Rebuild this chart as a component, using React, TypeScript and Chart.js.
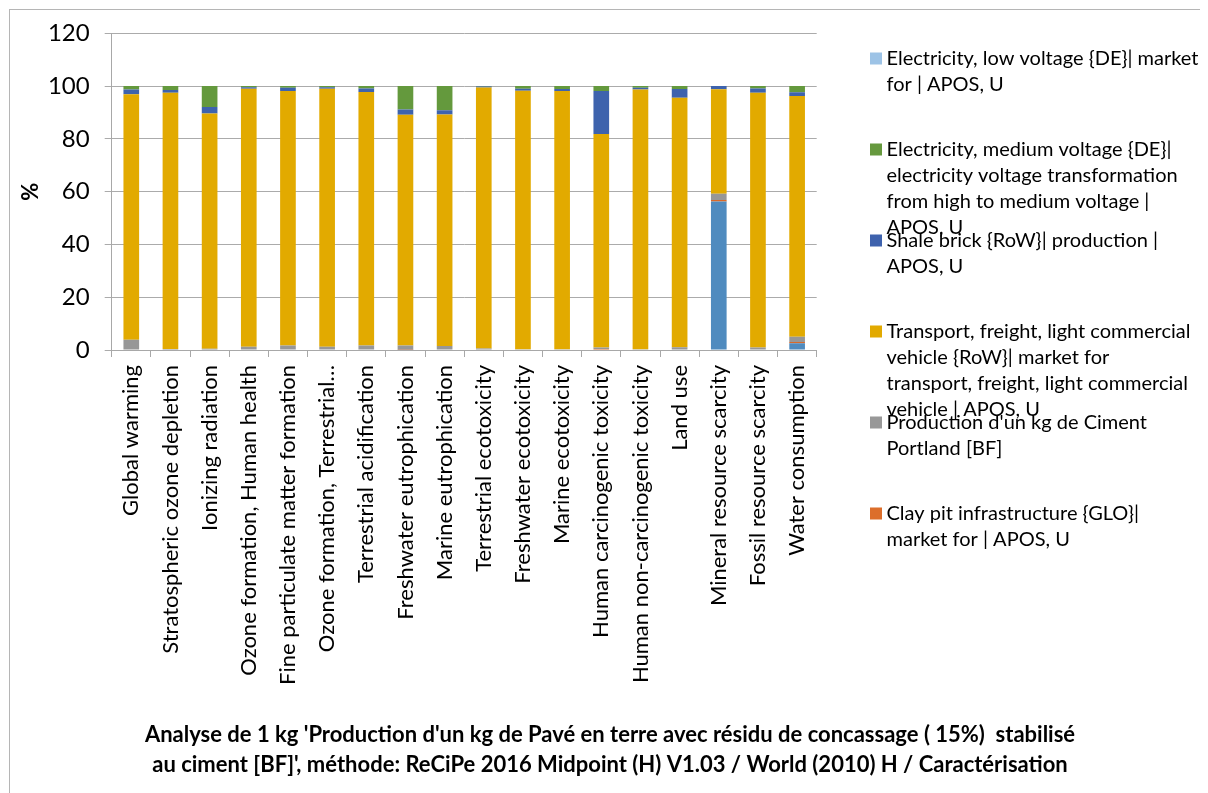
import React, { useEffect, useRef } from "react";
import { Chart, registerables } from "chart.js";

Chart.register(...registerables);

// Impact categories (x axis)
const categories = [
  "Global warming",
  "Stratospheric ozone depletion",
  "Ionizing radiation",
  "Ozone formation, Human health",
  "Fine particulate matter formation",
  "Ozone formation, Terrestrial…",
  "Terrestrial acidification",
  "Freshwater eutrophication",
  "Marine eutrophication",
  "Terrestrial ecotoxicity",
  "Freshwater ecotoxicity",
  "Marine ecotoxicity",
  "Human carcinogenic toxicity",
  "Human non-carcinogenic toxicity",
  "Land use",
  "Mineral resource scarcity",
  "Fossil resource scarcity",
  "Water consumption",
];

// Contributions in %, stacked bottom to top
const lowVoltage = [0, 0, 0, 0, 0, 0, 0, 0, 0, 0, 0, 0, 0, 0, 0, 56.3, 0, 2.6];
const clayPit = [0, 0, 0, 0, 0, 0, 0, 0.1, 0, 0.2, 0, 0, 0.4, 0, 0.2, 0.5, 0, 0.4];
const ciment = [3.9, 0.4, 0.5, 1.2, 1.7, 1.2, 1.7, 1.6, 1.5, 0.4, 0.3, 0.3, 0.5, 0.3, 0.8, 2.4, 0.9, 2.0];
const transport = [93.0, 97.1, 89.1, 97.8, 96.4, 97.8, 96.1, 87.4, 87.7, 98.9, 97.9, 97.8, 80.9, 98.4, 94.6, 39.6, 96.6, 91.2];
const shaleBrick = [1.8, 1.0, 2.5, 0.6, 1.3, 0.6, 1.3, 2.0, 1.6, 0.3, 0.8, 0.8, 16.3, 0.7, 3.3, 1.2, 1.6, 1.5];
const mediumVoltage = [1.3, 1.5, 7.9, 0.4, 0.6, 0.4, 0.9, 8.9, 9.2, 0.2, 1.0, 1.1, 1.9, 0.6, 1.1, 0, 0.9, 2.3];

// Series names, split into the lines shown in the legend
const seriesNameLines = [
  ["Electricity, low voltage {DE}| market", "for | APOS, U"],
  ["Clay pit infrastructure {GLO}|", "market for | APOS, U"],
  ["Production d'un kg de Ciment", "Portland [BF]"],
  [
    "Transport, freight, light commercial",
    "vehicle {RoW}| market for",
    "transport, freight, light commercial",
    "vehicle | APOS, U",
  ],
  ["Shale brick {RoW}| production |", "APOS, U"],
  [
    "Electricity, medium voltage {DE}|",
    "electricity voltage transformation",
    "from high to medium voltage |",
    "APOS, U",
  ],
];
const seriesValues = [lowVoltage, clayPit, ciment, transport, shaleBrick, mediumVoltage];
const barColors = ["#4F8BBF", "#D8692A", "#979797", "#E2AA00", "#3E63AD", "#64993D"];
const swatchColors = ["#9DC3E6", "#DC6E2B", "#989898", "#E2AA00", "#3E62AD", "#66993E"];
// legend lists series in this order (top to bottom)
const legendOrder = [0, 5, 4, 3, 2, 1];

const yTicks = [0, 20, 40, 60, 80, 100, 120];
const yAxisTitle = "%";
const titleLines = [
  "Analyse de 1 kg 'Production d'un kg de Pavé en terre avec résidu de concassage ( 15%)  stabilisé",
  "au ciment [BF]', méthode: ReCiPe 2016 Midpoint (H) V1.03 / World (2010) H / Caractérisation",
];

const FONT = "Lato, 'Open Sans', sans-serif";
const W = 1200;
const H = 785;

const decorations = {
  id: "decorations",
  afterDraw(chart: any) {
    const ctx: CanvasRenderingContext2D = chart.ctx;
    const area = chart.chartArea;
    ctx.save();

    // outer frame of the chart area (only top and left edges are inside the canvas)
    ctx.strokeStyle = "#B5B5B5";
    ctx.lineWidth = 1;
    ctx.strokeRect(1.5, 1.5, chart.width + 40, chart.height + 40);

    // y axis title
    ctx.save();
    ctx.translate(23, (area.top + area.bottom) / 2);
    ctx.rotate(-Math.PI / 2);
    ctx.font = `bold 22px ${FONT}`;
    ctx.fillStyle = "#000";
    ctx.textAlign = "center";
    ctx.textBaseline = "middle";
    ctx.fillText(yAxisTitle, 0, 0);
    ctx.restore();

    // legend
    ctx.font = `20px ${FONT}`;
    ctx.textAlign = "left";
    ctx.textBaseline = "middle";
    legendOrder.forEach((idx, i) => {
      const y0 = 50.5 + i * 91;
      ctx.fillStyle = swatchColors[idx];
      ctx.fillRect(862, y0 - 6, 12, 12);
      ctx.fillStyle = "#000";
      seriesNameLines[idx].forEach((ln, k) => ctx.fillText(ln, 878.5, y0 + k * 26));
    });

    // chart title
    ctx.font = `bold 22px ${FONT}`;
    ctx.textAlign = "center";
    ctx.fillStyle = "#000";
    titleLines.forEach((ln, k) => ctx.fillText(ln, 602, 727 + k * 30));

    ctx.restore();
  },
};

export default function App() {
  const canvasRef = useRef<HTMLCanvasElement | null>(null);

  useEffect(() => {
    // the chart fills the window; keep the page from scrolling
    const prevOverflow = document.body.style.overflow;
    document.body.style.overflow = "hidden";

    const canvas = canvasRef.current;
    if (!canvas) return;
    const chart = new Chart(canvas, {
      type: "bar",
      data: {
        labels: categories,
        datasets: seriesValues.map((vals, i) => ({
          label: seriesNameLines[i].join(" "),
          data: vals,
          backgroundColor: barColors[i],
          borderWidth: 0,
          categoryPercentage: 1,
          barPercentage: 0.4,
        })),
      },
      options: {
        animation: false,
        responsive: false,
        maintainAspectRatio: false,
        layout: { padding: { top: 25.3, right: 391.3, left: 0, bottom: 0 } },
        plugins: {
          legend: { display: false },
          title: { display: false },
          tooltip: { enabled: false },
        },
        scales: {
          x: {
            stacked: true,
            offset: true,
            grid: {
              display: true,
              offset: true,
              drawOnChartArea: false,
              drawTicks: true,
              tickLength: 7,
              color: "#A8A8A8",
              lineWidth: 1,
            },
            border: { display: true, color: "#A8A8A8", width: 1 },
            ticks: {
              autoSkip: false,
              minRotation: 90,
              maxRotation: 90,
              padding: 8,
              color: "#000",
              font: { family: FONT, size: 22 },
            },
            afterFit: (s: any) => {
              s.height = H - 342;
            },
          },
          y: {
            stacked: true,
            min: 0,
            max: 120,
            afterBuildTicks: (s: any) => {
              s.ticks = yTicks.map((v) => ({ value: v }));
            },
            grid: {
              color: "#ABABAB",
              lineWidth: 1,
              drawTicks: true,
              tickLength: 7,
            },
            border: { display: true, color: "#A8A8A8", width: 1 },
            ticks: {
              padding: 15,
              color: "#000",
              font: { family: FONT, size: 24 },
            },
            afterFit: (s: any) => {
              s.width = 103.7;
              s.paddingTop = 0;
              s.paddingBottom = 0;
            },
          },
        },
      },
      plugins: [decorations],
    });
    return () => {
      chart.destroy();
      document.body.style.overflow = prevOverflow;
    };
  }, []);

  return (
    <div style={{ width: W, height: H }}>
      <canvas ref={canvasRef} width={W} height={H} style={{ width: W, height: H, display: "block" }} />
    </div>
  );
}
